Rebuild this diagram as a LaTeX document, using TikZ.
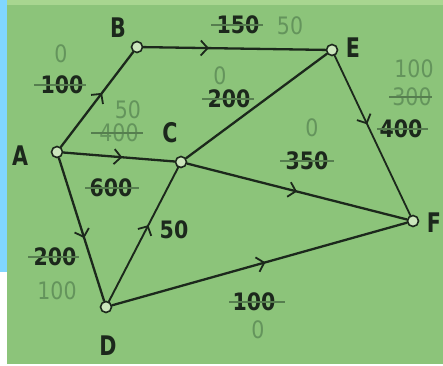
\documentclass[tikz,border=0pt]{standalone}
\usepackage{fontspec}
\setmainfont{DejaVu Sans Condensed}
\usetikzlibrary{decorations.markings,arrows.meta}
\definecolor{paper}{RGB}{140,196,122}
\definecolor{paperlight}{RGB}{168,214,144}
\definecolor{sky}{RGB}{128,214,255}
\definecolor{ink}{RGB}{28,40,28}
\definecolor{pencil}{RGB}{100,148,92}
\tikzset{
  vtx/.style={circle,draw=ink,line width=1.6pt,fill=paperlight!60!white,inner sep=0pt,minimum size=11pt},
  vname/.style={text=ink,font=\fontsize{27}{27}\selectfont\bfseries,xscale=0.85},
  edge/.style={draw=ink,line width=2.3pt,line cap=round},
  midarrow/.style={postaction={decorate},decoration={markings,
     mark=at position #1 with {\arrow[ink,line width=1.8pt]{Straight Barb[length=7pt,width=15pt]}}}},
  dlab/.style={text=ink,font=\fontsize{24}{24}\selectfont\bfseries,inner sep=0pt,xscale=0.95},
  glab/.style={text=pencil,font=\fontsize{24}{24}\selectfont,inner sep=0pt,xscale=0.95},
  strike/.style={draw=pencil!80!ink,line width=1.1pt}
}
\begin{document}
\begin{tikzpicture}[x=1pt,y=-1pt]
\useasboundingbox (0,0) rectangle (443,365);
% background
\fill[paper] (0,0) rectangle (443,365);
\fill[paperlight] (7,0) rectangle (443,5);
\fill[sky] (0,0) rectangle (7,272);
\fill[white] (0,272) rectangle (7,365);
\fill[white] (0,364) rectangle (443,365);
% vertices
\node[vtx] (A) at (57,152) {};
\node[vtx] (B) at (137,47) {};
\node[vtx] (C) at (181,162) {};
\node[vtx] (E) at (332,50) {};
\node[vtx] (F) at (413,221) {};
\node[vtx] (D) at (106,307) {};
% vertex names
\node[vname] (nA) at (20,156) {A};
\node[vname] (nB) at (118,28) {B};
\node[vname] (nC) at (170,133) {C};
\node[vname] (nE) at (353,48) {E};
\node[vname] (nF) at (434,223) {F};
\node[vname] (nD) at (108,346) {D};
% edges
\draw[edge,midarrow=0.57] (A) -- (B);
\draw[edge,midarrow=0.36] (B) -- (E);
\draw[edge,midarrow=0.53] (A) -- (C);
\draw[edge] (C) -- (E);
\draw[edge,midarrow=0.5] (C) -- (F);
\draw[edge,line width=1.8pt,midarrow=0.43] (E) -- (F);
\draw[edge,midarrow=0.56] (A) -- (D);
\draw[edge,line width=1.9pt,midarrow=0.57] (D) -- (C);
\draw[edge,midarrow=0.52] (D) -- (F);
% labels: A-B
\node[glab] (ab0) at (61,54) {0};
\node[dlab] (ab1) at (62,85) {100};
\draw[strike] ([xshift=-6pt]ab1.west) -- ([xshift=2pt]ab1.east);
% A-C
\node[glab] (ac0) at (128,110) {50};
\node[glab] (ac1) at (119,133) {400};
\draw[strike] ([xshift=-8pt]ac1.west) -- ([xshift=4pt]ac1.east);
\node[dlab] (ac2) at (111,188) {600};
\draw[strike] ([xshift=-4pt]ac2.west) -- ([xshift=6pt]ac2.east);
% B-E
\node[dlab] (be1) at (238,25) {150};
\draw[strike] ([xshift=-5pt]be1.west) -- ([xshift=3pt]be1.east);
\node[glab] (be0) at (290,26) {50};
% C-E
\node[glab] (ce0) at (220,76) {0};
\node[dlab] (ce1) at (229,99) {200};
\draw[strike] ([xshift=-5pt]ce1.west) -- ([xshift=3pt]ce1.east);
% E-F
\node[glab] (ef0) at (414,69) {100};
\node[glab] (ef1) at (412,97) {300};
\draw[strike] ([xshift=-3pt]ef1.west) -- ([xshift=0pt]ef1.east);
\node[dlab] (ef2) at (401,129) {400};
\draw[strike] ([xshift=-2pt]ef2.west) -- ([xshift=5pt]ef2.east);
% C-F
\node[glab] (cf0) at (312,128) {0};
\node[dlab] (cf1) at (307,161) {350};
\draw[strike] ([xshift=-5pt]cf1.west) -- ([xshift=5pt]cf1.east);
% D-C
\node[dlab] (dc1) at (174,230) {50};
% A-D
\node[dlab] (ad1) at (55,257) {200};
\draw[strike] ([xshift=-5pt]ad1.west) -- ([xshift=2pt]ad1.east);
\node[glab] (ad0) at (57,291) {100};
% D-F
\node[dlab] (df1) at (254,302) {100};
\draw[strike] ([xshift=-3pt]df1.west) -- ([xshift=9pt]df1.east);
\node[glab] (df0) at (258,330) {0};
\end{tikzpicture}
\end{document}
